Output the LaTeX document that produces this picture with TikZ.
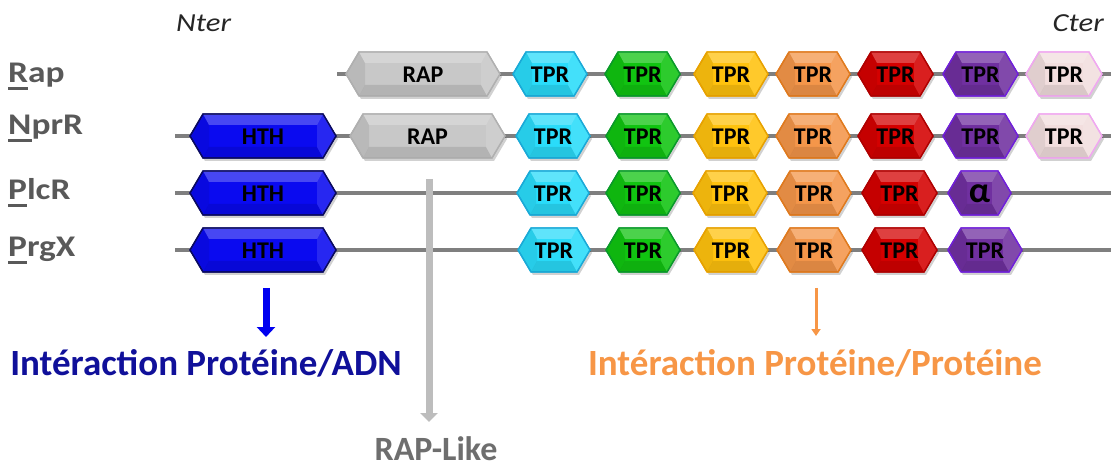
\documentclass[tikz,border=0pt]{standalone}
\usepackage{fontspec}
\setmainfont{Carlito}
\usepackage{graphicx}
\usetikzlibrary{arrows.meta}

\definecolor{labgray}{HTML}{595959}
\definecolor{termgray}{HTML}{262626}
\definecolor{backgray}{HTML}{7F7F7F}
\definecolor{likegray}{HTML}{6E6E6E}
\definecolor{likearrow}{HTML}{BDBDBD}
\definecolor{adnblue}{HTML}{10109A}
\definecolor{arrowblue}{HTML}{0000F0}
\definecolor{protorange}{HTML}{F79646}
\definecolor{cyanfill}{HTML}{2ADCFA}  \definecolor{cyanline}{HTML}{1AAAD8}
\definecolor{greenfill}{HTML}{11C411} \definecolor{greenline}{HTML}{0A9A2A}
\definecolor{yelfill}{HTML}{FFC20E}   \definecolor{yelline}{HTML}{E8A200}
\definecolor{orfill}{HTML}{F4964A}    \definecolor{orline}{HTML}{E07A1E}
\definecolor{redfill}{HTML}{D40000}   \definecolor{redline}{HTML}{B00000}
\definecolor{purfill}{HTML}{7030A0}   \definecolor{purline}{HTML}{7020D8}
\definecolor{pinkfill}{HTML}{F2DEDE}  \definecolor{pinkline}{HTML}{F0A8F0}
\definecolor{rapfill}{HTML}{C8C8C8}   \definecolor{rapline}{HTML}{B0B0B0}
\definecolor{hthfill}{HTML}{0A0AF0}   \definecolor{hthline}{HTML}{0A0A60}

\newsavebox\ulbox
\newcommand{\firstul}[1]{\sbox\ulbox{#1}\rlap{\rule[-0.22em]{\wd\ulbox}{0.08em}}\usebox\ulbox}
\newcommand{\stretched}[1]{\scalebox{1.18}[1]{#1}}

% name, left tip, right tip, row, colour style, text
\newcommand{\hexdom}[6]{%
  \fill[hexshadow] (#2+2,#4+3) -- (#2+15,#4-19) -- (#3-11,#4-19) -- (#3+2,#4+3) -- (#3-11,#4+25) -- (#2+15,#4+25) -- cycle;
  \path[#5] (#2,#4) -- (#2+13,#4-22) -- (#3-13,#4-22) -- (#3,#4) -- (#3-13,#4+22) -- (#2+13,#4+22) -- cycle;
  \fill[white,opacity=0.25] (#2+13,#4-22) -- (#3-13,#4-22) -- (#3-19,#4-11) -- (#2+19,#4-11) -- cycle;
  \fill[black,opacity=0.10] (#2+13,#4+22) -- (#3-13,#4+22) -- (#3-19,#4+11) -- (#2+19,#4+11) -- cycle;
  \fill[black,opacity=0.07] (#2,#4) -- (#2+13,#4-22) -- (#2+19,#4-11) -- (#2+19,#4+11) -- (#2+13,#4+22) -- cycle;
  \fill[white,opacity=0.12] (#3,#4) -- (#3-13,#4-22) -- (#3-19,#4-11) -- (#3-19,#4+11) -- (#3-13,#4+22) -- cycle;
  \draw[#5,fill=none] (#2,#4) -- (#2+13,#4-22) -- (#3-13,#4-22) -- (#3,#4) -- (#3-13,#4+22) -- (#2+13,#4+22) -- cycle;
  \node[domtext] (#1) at ({(#2+#3)/2},#4+1) {#6};
}

\begin{document}
\begin{tikzpicture}[x=1pt,y=-1pt,
  every node/.style={inner sep=0pt},
  hexshadow/.style={fill=black,opacity=0.18},
  hexbase/.style={line width=1.3pt,line join=round},
  hexcyan/.style={hexbase,fill=cyanfill,draw=cyanline},
  hexgreen/.style={hexbase,fill=greenfill,draw=greenline},
  hexyellow/.style={hexbase,fill=yelfill,draw=yelline},
  hexorange/.style={hexbase,fill=orfill,draw=orline},
  hexred/.style={hexbase,fill=redfill,draw=redline},
  hexpurple/.style={hexbase,fill=purfill,draw=purline},
  hexpink/.style={hexbase,fill=pinkfill,draw=pinkline},
  hexgray/.style={hexbase,fill=rapfill,draw=rapline},
  hexblue/.style={hexbase,fill=hthfill,draw=hthline},
  domtext/.style={font=\bfseries\fontsize{24}{25}\selectfont,text=black},
  rowlabel/.style={anchor=base west,font=\bfseries\fontsize{30}{32}\selectfont,text=labgray},
  termlabel/.style={font=\itshape\fontsize{26}{28}\selectfont,text=termgray},
  backbone/.style={draw=backgray,line width=4.5pt},
  bigtext/.style={anchor=base,font=\bfseries\fontsize{37}{40}\selectfont}]
\useasboundingbox (0,0) rectangle (1111,470);

\node[termlabel,anchor=base west] (nter) at (176,32) {\stretched{Nter}};
\node[termlabel,anchor=base east] (cter) at (1104,32) {\stretched{Cter}};

\node[rowlabel] (lrap) at (8,83) {\stretched{\firstul{R}ap}};
\node[rowlabel] (lnprr) at (8,135) {\stretched{\firstul{N}prR}};
\node[rowlabel] (lplcr) at (8,200) {\stretched{\firstul{P}lcR}};
\node[rowlabel] (lprgx) at (8,257) {\stretched{\firstul{P}rgX}};

\coordinate (rapstart) at (337,74);   \coordinate (rapend) at (1111,74);
\coordinate (nprrstart) at (175,136); \coordinate (nprrend) at (1111,136);
\coordinate (plcrstart) at (175,193); \coordinate (plcrend) at (1111,193);
\coordinate (prgxstart) at (175,250); \coordinate (prgxend) at (1111,250);
\draw[backbone] (rapstart) -- (rapend);
\draw[backbone] (nprrstart) -- (nprrend);
\draw[backbone] (plcrstart) -- (plcrend);
\draw[backbone] (prgxstart) -- (prgxend);

\hexdom{rap-rap}{346}{500}{74}{hexgray}{RAP}
\hexdom{rap-t1}{513}{587}{74}{hexcyan}{TPR}
\hexdom{rap-t2}{605}{680}{74}{hexgreen}{TPR}
\hexdom{rap-t3}{694}{768}{74}{hexyellow}{TPR}
\hexdom{rap-t4}{776}{850}{74}{hexorange}{TPR}
\hexdom{rap-t5}{858}{933}{74}{hexred}{TPR}
\hexdom{rap-t6}{943}{1018}{74}{hexpurple}{TPR}
\hexdom{rap-t7}{1026}{1102}{74}{hexpink}{TPR}

\hexdom{nprr-hth}{190}{336}{136}{hexblue}{HTH}
\hexdom{nprr-rap}{350}{505}{136}{hexgray}{RAP}
\hexdom{nprr-t1}{516}{590}{136}{hexcyan}{TPR}
\hexdom{nprr-t2}{606}{680}{136}{hexgreen}{TPR}
\hexdom{nprr-t3}{694}{768}{136}{hexyellow}{TPR}
\hexdom{nprr-t4}{776}{850}{136}{hexorange}{TPR}
\hexdom{nprr-t5}{858}{933}{136}{hexred}{TPR}
\hexdom{nprr-t6}{943}{1018}{136}{hexpurple}{TPR}
\hexdom{nprr-t7}{1026}{1102}{136}{hexpink}{TPR}

\hexdom{plcr-hth}{190}{336}{193}{hexblue}{HTH}
\hexdom{plcr-t1}{517}{589}{193}{hexcyan}{TPR}
\hexdom{plcr-t2}{606}{680}{193}{hexgreen}{TPR}
\hexdom{plcr-t3}{693}{767}{193}{hexyellow}{TPR}
\hexdom{plcr-t4}{777}{851}{193}{hexorange}{TPR}
\hexdom{plcr-t5}{862}{937}{193}{hexred}{TPR}
\hexdom{plcr-alpha}{948}{1011}{193}{hexpurple}{\fontsize{36}{36}\selectfont α}

\hexdom{prgx-hth}{190}{336}{250}{hexblue}{HTH}
\hexdom{prgx-t1}{518}{590}{250}{hexcyan}{TPR}
\hexdom{prgx-t2}{606}{680}{250}{hexgreen}{TPR}
\hexdom{prgx-t3}{694}{768}{250}{hexyellow}{TPR}
\hexdom{prgx-t4}{777}{851}{250}{hexorange}{TPR}
\hexdom{prgx-t5}{862}{937}{250}{hexred}{TPR}
\hexdom{prgx-t6}{948}{1022}{250}{hexpurple}{TPR}

\node[bigtext,text=adnblue] (adn) at (206,375) {Intéraction Protéine/ADN};
\node[bigtext,text=protorange] (prot) at (815,375) {Intéraction Protéine/Protéine};
\node[bigtext,text=likegray,font=\bfseries\fontsize{34}{36}\selectfont] (raplike) at (436,460) {RAP-Like};

\coordinate (hthdown) at (266,288);  \coordinate (adntip) at (266,337);
\coordinate (tprdown) at (816,288);  \coordinate (prottip) at (816,336);
\coordinate (likestart) at (429,179); \coordinate (liketip) at (429,422);
\draw[draw=arrowblue,line width=7pt,-{Triangle[width=18pt,length=10pt]}] (hthdown) -- (adntip);
\draw[draw=protorange,line width=3pt,-{Triangle[width=9pt,length=7pt]}] (tprdown) -- (prottip);
\draw[draw=likearrow,line width=7pt,-{Triangle[width=17pt,length=9pt]}] (likestart) -- (liketip);
\end{tikzpicture}
\end{document}
